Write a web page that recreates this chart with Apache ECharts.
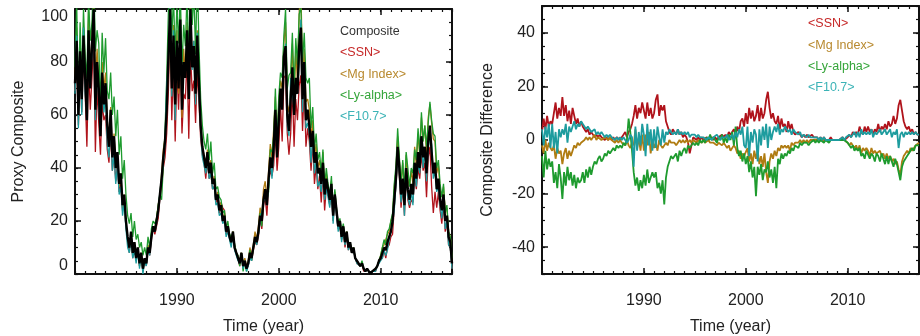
<!DOCTYPE html>
<html>
<head>
<meta charset="utf-8">
<title>Proxy composite</title>
<script src="https://cdn.jsdelivr.net/npm/echarts@6/dist/echarts.min.js"></script>
<style>
  html, body { margin: 0; padding: 0; background: #fff; }
  #chart { width: 920px; height: 336px; }
</style>
</head>
<body>
<div id="chart"></div>
<script>
// bi-monthly samples, first one at 1980.0, last one at 2017.0
const startYear = 1980
const step = 1 / 6

const composite = [
  72, 88, 60, 84, 66, 90,   74, 58, 92, 70, 86, 100,  62, 80, 70, 52, 76, 64,
  72, 56, 48, 62, 44, 52,   40, 46, 34, 38, 26, 30,   20, 14, 10, 16, 8, 12,
  6, 10, 4, 8, 2, 6,        4, 10, 8, 14, 18, 16,     20, 24, 30, 36, 44, 50,
  62, 82, 100, 70, 90, 64,  88, 70, 96, 62, 80, 74,   92, 66, 100, 78, 86, 68,
  90, 72, 56, 48, 44, 40,   46, 38, 42, 34, 36, 28,   30, 24, 26, 20, 22, 16,
  18, 14, 12, 16, 10, 8,    6, 4, 8, 3, 5, 2,         4, 8, 6, 10, 14, 12,
  16, 22, 20, 28, 32, 26,   36, 44, 40, 48, 62, 44,   58, 70, 62, 82, 86, 60,
  54, 66, 78, 60, 74, 68,   86, 93, 66, 80, 58, 62,   56, 48, 54, 42, 46, 38,
  40, 34, 42, 30, 36, 32,   28, 34, 22, 30, 24, 18,   20, 14, 18, 12, 16, 10,
  12, 8, 10, 6, 5, 4,       3, 4, 2, 1, 2, 1,         0, 1, 1, 2, 3, 5,
  6, 8, 10, 9, 12, 14,      16, 20, 28, 36, 48, 40,   30, 36, 26, 40, 32, 28,
  34, 30, 42, 36, 46, 40,   52, 44, 48, 38, 50, 56,   46, 38, 42, 32, 36, 28,
  24, 30, 20, 22, 14, 12,   4
]

// composite minus proxy, as plotted in the right panel
const ssnDiff = [
  3, 8, 4, 9, 5, 7,         6, 10, 14, 8, 12, 9,      16, 9, 13, 7, 11, 6,
  12, 9, 6, 8, 5, 7,        5, 4, 3, 4, 2, 3,         2, 1, 2, 1, 2, 1,
  1, 0, 1, 0, 1, 0,         1, 0, 1, 1, 0, 1,         2, 3, 1, 3, 4, 6,
  9, 13, 8, 12, 10, 14,     11, 8, 14, 9, 12, 8,      10, 15, 17, 9, 13, 11,
  13, 7, 5, 3, 2, 4,        3, 2, 4, 2, 3, 1,         2, 1, -1, -5, -2, 1,
  1, 0, 1, 0, 1, 0,         0, 1, 0, 0, 1, 0,         1, 0, 1, 1, 2, 1,
  2, 1, 3, 2, 3, 4,         2, 5, 3, 7, 8, 5,         10, 6, 12, 8, 11, 7,
  9, 13, 7, 12, 8, 10,      15, 18, 12, 8, 10, 7,     6, 9, 4, 8, 5, 6,
  3, 7, 4, 6, 3, 2,         2, 3, 2, 1, 2, 1,         2, 1, 1, 2, 1, 1,
  1, 0, 1, 0, 1, 0,         0, 0, 1, 0, 0, 0,         0, 0, 0, 1, 0, 0,
  1, 2, 1, 3, 2, 3,         2, 5, 3, 2, 5, 3,         5, 3, 4, 2, 4, 3,
  6, 3, 5, 4, 6, 4,         7, 5, 6, 9, 6, 8,         13, 15, 11, 7, 5, 4,
  5, 3, 4, 2, 3, 2,         2
]
const mgDiff = [
  -2, -5, 0, -4, -1, -3,    -4, -2, -7, -3, -5, -4,   -9, -5, -3, -7, -4, -6,
  -4, -2, -3, -1, -2, -1,   -1, 0, 1, 0, 1, 0,        1, 2, 0, 1, 1, 0,
  0, 1, 1, 0, 1, 0,         0, -1, 0, -1, 0, -1,      -1, -2, 0, -2, -3, -1,
  -2, 4, -3, 1, -4, 2,      -4, 2, -2, 3, -5, 0,      -3, -1, -4, 0, -2, -3,
  -2, -1, -2, 0, -1, -1,    -1, -2, -1, 0, -1, 0,     -1, 0, -1, 0, -1, 0,
  0, -1, 0, 0, -1, 0,       -1, -1, 0, -1, -1, -1,    -1, -2, -1, -1, -2, -1,
  -2, -3, -2, -4, -3, -2,   -3, -5, -4, -7, -5, -6,   -6, -3, -8, -5, -9, -4,
  -7, -4, -9, -6, -10, -5,  -12, -16, -8, -5, -7, -4, -6, -3, -4, -2, -3, -2,
  -3, -2, -4, -1, -2, -1,   -1, -1, 0, -1, 0, -1,     0, -1, 0, 0, 0, 0,
  0, 0, 0, 0, 0, 0,         0, 0, 0, 0, 0, 0,         0, 0, 0, 0, 0, 0,
  -1, -2, -1, -2, -3, -2,   -4, -2, -5, -3, -4, -3,   -4, -6, -3, -5, -4, -5,
  -5, -4, -6, -5, -7, -5,   -7, -6, -8, -7, -9, -8,   -11, -13, -8, -6, -5, -4,
  -5, -3, -4, -3, -2, -2,   -1
]
const lyDiff = [
  -6, -14, -4, -11, -7, -10,   -8, -16, -12, -18, -9, -14,  -22, -12, -17, -10, -15, -12,
  -17, -13, -18, -14, -16, -15, -12, -16, -11, -14, -10, -13, -10, -8, -9, -7, -6, -8,
  -7, -5, -6, -4, -5, -4,      -3, -4, -2, -3, -2, -3,      -1, -2, 0, 8, 3, -4,
  -12, -17, -14, -19, -15, -18, -13, -17, -11, -16, -14, -12, -14, -12, -18, -16, -20, -15,
  -24, -14, -10, -8, -6, -7,   -7, -5, -8, -4, -6, -4,      -3, -5, -2, -3, -2, -1,
  -2, -1, -2, 0, -1, 0,        -1, 1, 0, 2, 0, 1,           0, -1, 1, 0, 2, -1,
  1, -1, 2, 0, 3, -2,          5, -3, -6, -4, -8, -5,       -9, -6, -12, -8, -14, -10,
  -21, -10, -13, -9, -15, -11, -12, -8, -14, -11, -16, -10, -18, -7, -9, -5, -7, -5,
  -6, -4, -5, -3, -4, -2,      -2, -3, -1, -2, -1, -1,      -1, -2, -1, -1, 0, -1,
  0, -1, 0, 0, -1, 0,          0, -1, 0, 0, 0, 0,           0, 0, 0, 0, 0, 0,
  -1, -2, -3, -2, -4, -3,      -4, -3, -6, -5, -7, -4,      -4, -7, -5, -6, -8, -5,
  -6, -8, -5, -7, -9, -6,      -9, -6, -8, -10, -7, -9,     -12, -15, -10, -8, -7, -6,
  -5, -4, -3, -4, -2, -2,      -2
]
const f107Diff = [
  4, -2, 5, 1, 6, -3,       6, -3, 3, -5, 4, 1,       4, 2, 6, -1, 5, 3,
  5, 7, 4, 6, 5, 7,         6, 5, 4, 5, 4, 3,         3, 4, 2, 3, 2, 3,
  2, 1, 2, 1, 2, 1,         1, 0, 1, 0, 1, 0,         1, 0, -1, 0, 2, 1,
  -10, 5, -4, 3, -2, 6,     2, -6, 6, -2, 4, -4,      4, -3, 5, 1, -2, 4,
  -1, 3, 2, 4, 3, 2,        3, 2, 4, 2, 3, 2,         3, 2, 3, 1, 2, 2,
  2, 1, 2, 1, 1, 1,         1, 0, 1, 1, 0, 1,         1, 2, 1, 0, 1, 1,
  1, 2, 0, 1, 2, 0,         3, 1, 4, 2, 5, -2,        -3, 5, -6, 3, -1, 4,
  2, -8, 4, -2, 5, 0,       6, -3, 5, 0, 3, 5,        3, 6, 2, 4, 3, 5,
  5, 3, 4, 2, 4, 3,         3, 2, 3, 1, 2, 2,         1, 2, 1, 1, 1, 1,
  1, 0, 1, 0, 1, 0,         0, 0, 0, 0, 0, 0,         0, 0, 0, 1, 0, 1,
  1, 2, 1, 2, 3, 1,         3, 1, 4, 2, 3, 2,         3, 2, 4, 1, 3, 2,
  3, 4, 2, 3, 4, 2,         2, 4, 1, 3, 2, 4,         -3, 2, 3, 1, 3, 2,
  3, 2, 3, 2, 3, 2,         2
]

const proxyNames = ['<SSN>', '<Mg Index>', '<Ly-alpha>', '<F10.7>']
const lineColors = ['#b0131b', '#b07c12', '#1e9b2e', '#1d9c9e']
const textColors = ['#c62828', '#b8892e', '#35a53a', '#3bb3b6']
const diffs = [ssnDiff, mgDiff, lyDiff, f107Diff]

const FONT = '"Liberation Sans", Arial, Helvetica, sans-serif'
const INK = '#111'

function pairs(values) {
  return values.map((v, i) => [startYear + i * step, v])
}

// proxy = composite - (composite - proxy)
function proxy(diff) {
  return composite.map((c, i) => c - diff[i])
}

function xAxes(grid) {
  const line = { show: true, onZero: false, lineStyle: { color: INK, width: 2 } }
  const none = { show: false, onZero: false }
  const base = { type: 'value', gridIndex: grid, min: 1980, max: 2017, splitLine: { show: false } }
  return [
    Object.assign({}, base, {
      position: 'bottom', interval: 10, axisLine: line,
      axisTick: { inside: true, length: 6, lineStyle: { color: INK, width: 1.5 } },
      axisLabel: {
        margin: 19, fontSize: 16, color: '#222', fontFamily: FONT,
        showMinLabel: false, showMaxLabel: false, formatter: v => String(v)
      },
      name: 'Time (year)', nameLocation: 'middle', nameGap: 45,
      nameTextStyle: { fontSize: 16, color: '#222', fontFamily: FONT }
    }),
    Object.assign({}, base, {
      position: 'bottom', interval: 1, axisLine: none,
      axisTick: { inside: true, length: 3, lineStyle: { color: INK, width: 1.2 } },
      axisLabel: { show: false }
    }),
    Object.assign({}, base, {
      position: 'top', interval: 10, axisLine: line,
      axisTick: { inside: true, length: 6, lineStyle: { color: INK, width: 1.5 } },
      axisLabel: { show: false }
    }),
    Object.assign({}, base, {
      position: 'top', interval: 1, axisLine: none,
      axisTick: { inside: true, length: 3, lineStyle: { color: INK, width: 1.2 } },
      axisLabel: { show: false }
    })
  ]
}

function yAxes(grid, min, max, majors, title, gap) {
  const line = { show: true, onZero: false, lineStyle: { color: INK, width: 2 } }
  const base = { type: 'value', gridIndex: grid, min: min, max: max, splitLine: { show: false } }
  const major = {
    interval: 10,
    axisTick: { inside: true, length: 6, customValues: majors, lineStyle: { color: INK, width: 1.5 } }
  }
  const minor = {
    interval: 5, axisLine: { show: false, onZero: false },
    axisTick: { inside: true, length: 3, lineStyle: { color: INK, width: 1.2 } },
    axisLabel: { show: false }
  }
  return [
    Object.assign({}, base, major, {
      position: 'left', axisLine: line,
      axisLabel: {
        customValues: majors, margin: 7, fontSize: 16, color: '#222', fontFamily: FONT,
        verticalAlignMinLabel: min === 0 ? 'bottom' : null,
        verticalAlignMaxLabel: min === 0 ? 'top' : null
      },
      name: title, nameLocation: 'middle', nameGap: gap,
      nameTextStyle: { fontSize: 16, color: '#222', fontFamily: FONT }
    }),
    Object.assign({}, base, minor, { position: 'left' }),
    Object.assign({}, base, major, { position: 'right', axisLine: line, axisLabel: { show: false } }),
    Object.assign({}, base, minor, { position: 'right' })
  ]
}

function legendText(x, y, text, color) {
  return {
    type: 'text', x: x, y: y,
    style: { text: text, fill: color, fontSize: 12.5, fontFamily: FONT, verticalAlign: 'middle' }
  }
}

const series = []
diffs.forEach((d, k) => {
  series.push({
    type: 'line', xAxisIndex: 0, yAxisIndex: 0, data: pairs(proxy(d)),
    showSymbol: false, lineStyle: { color: lineColors[k], width: 1.3 }
  })
})
series.push({
  type: 'line', xAxisIndex: 0, yAxisIndex: 0, data: pairs(composite),
  showSymbol: false, lineStyle: { color: '#000', width: 2.4 }
})
diffs.forEach((d, k) => {
  series.push({
    type: 'line', xAxisIndex: 4, yAxisIndex: 4, data: pairs(d),
    showSymbol: false, lineStyle: { color: lineColors[k], width: 1.8 }
  })
})

const graphics = [legendText(340, 32, 'Composite', '#333')]
proxyNames.forEach((n, k) => {
  graphics.push(legendText(340, 53 + k * 21.3, n, textColors[k]))
  graphics.push(legendText(808, 24 + k * 21.3, n, textColors[k]))
})

const myChart = echarts.init(document.getElementById('chart'))
myChart.setOption({
  animation: false,
  backgroundColor: '#fff',
  grid: [
    { left: 75, top: 9, width: 377, height: 265, outerBoundsMode: 'none' },
    { left: 542, top: 6, width: 377, height: 268, outerBoundsMode: 'none' }
  ],
  xAxis: xAxes(0).concat(xAxes(1)),
  yAxis: yAxes(0, 0, 100, [0, 20, 40, 60, 80, 100], 'Proxy Composite', 48)
    .concat(yAxes(1, -50, 50, [-40, -20, 0, 20, 40], 'Composite Difference', 46)),
  graphic: graphics,
  series: series
})
</script>
</body>
</html>
